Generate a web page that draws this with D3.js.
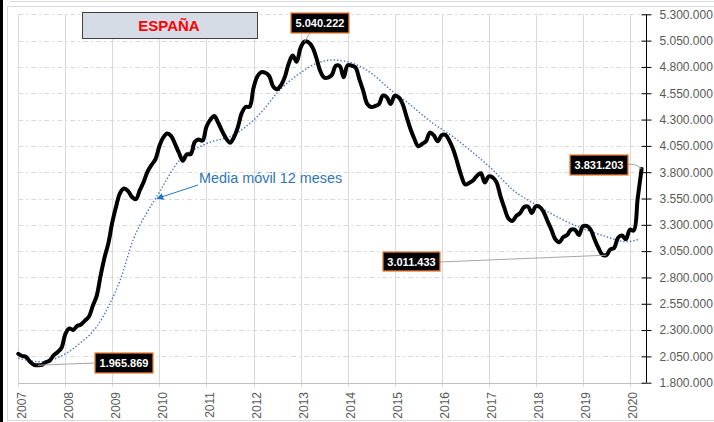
<!DOCTYPE html>
<html>
<head>
<meta charset="utf-8">
<script src="https://cdn.jsdelivr.net/npm/d3@7"></script>
<style>
  body { margin: 0; background: #fff; }
  svg { display: block; font-family: "Liberation Sans", Arial, sans-serif; }
  .grid-h { stroke: #d9d9d9; stroke-dasharray: 5 3 2 3; }
  .grid-v { stroke: #d9d9d9; }
  .yaxis path, .yaxis line { stroke: #000; }
  .yaxis text { fill: #595959; font-size: 12px; }
  .year { fill: #595959; font-size: 12px; }
  .paro { fill: none; stroke: #000; stroke-width: 4; stroke-linejoin: round; stroke-linecap: round; }
  .media { fill: none; stroke: #4472c4; stroke-width: 1.4; stroke-dasharray: 1.4 2; }
  .tag rect { fill: #000; stroke: #ed7d31; stroke-width: 1.3; }
  .tag text { fill: #fff; font-size: 11px; font-weight: bold; }
  .leader { stroke: #a6a6a6; fill: none; }
</style>
</head>
<body>
<svg width="714" height="422"></svg>
<script>
// Paro registrado, mensual, de enero 2007 a abril 2020
const startYear = 2007;
const paro = [
  2074380, 2053728, 2044470, 1999000, 1970000, 1965869, 1969000, 1995000, 2010000, 2060000, 2090000, 2129547,
  2261663, 2315331, 2300975, 2338517, 2352978, 2390403, 2426337, 2530001, 2625368, 2818026, 2989269, 3128963,
  3327801, 3481859, 3605402, 3644041, 3620139, 3564889, 3544024, 3629080, 3709447, 3808353, 3868946, 3923603,
  4048493, 4130625, 4166613, 4142425, 4066202, 3982368, 3908398, 3969661, 3972081, 4085976, 4110294, 4100073,
  4231003, 4299263, 4333669, 4269360, 4189659, 4121801, 4079742, 4130927, 4226744, 4360926, 4420462, 4422359,
  4599829, 4712098, 4750867, 4744235, 4714122, 4615269, 4587455, 4625634, 4705279, 4833521, 4907817, 4848723,
  4980778, 5040222, 5035243, 4989193, 4890928, 4763680, 4698814, 4698783, 4724355, 4811383, 4808908, 4701338,
  4814435, 4812486, 4795866, 4684301, 4572385, 4449701, 4419860, 4427930, 4447650, 4526804, 4512153, 4447711,
  4525691, 4512116, 4451939, 4333016, 4215031, 4120304, 4046276, 4067955, 4094042, 4176369, 4149298, 4093508,
  4150710, 4152986, 4094770, 4011171, 3891403, 3767054, 3683061, 3697496, 3720297, 3764982, 3789823, 3702974,
  3760231, 3750876, 3702317, 3573036, 3461128, 3362811, 3335924, 3382324, 3410182, 3467026, 3474281, 3412781,
  3476528, 3470248, 3422551, 3335868, 3252130, 3162162, 3135021, 3182068, 3202509, 3254703, 3252867, 3202297,
  3285761, 3289040, 3255084, 3163566, 3079491, 3015686, 3011433, 3065804, 3079711, 3177659, 3198184, 3163605,
  3253853, 3246047, 3548312, 3831203
];

// media movil 12 meses (mes desde ene-2007, valor)
const mediaMes = [0, 5.5, 10.6, 15.7, 20, 23.4, 26, 29.3, 32.7, 35.3, 41.2, 47.2, 55.7, 62.5, 65.9, 71.8, 76.1, 80.3, 85.4, 88.9, 95.6, 99, 105.8, 110.9, 115.2, 121.1, 126.2, 132.2, 139, 145, 150, 155.2, 158.6];
const mediaVal = [2032000, 1999000, 2047000, 2174000, 2332000, 2554000, 2776000, 3156000, 3409000, 3567000, 3916000, 4058000, 4170000, 4390000, 4549000, 4739000, 4834000, 4866000, 4834000, 4770000, 4564000, 4470000, 4264000, 4137000, 4010000, 3820000, 3631000, 3488000, 3346000, 3251000, 3187000, 3140000, 3165000];

const years = ["2007", "2008", "2009", "2010", "2011", "2012", "2013", "2014", "2015", "2016", "2017", "2018", "2019", "2020"];
const yTicks = d3.range(1800000, 5300001, 250000);

// meses marcados con etiqueta: minimo 2007, maximo 2013, minimo 2019, ultimo dato
const marcados = [5, 73, 150, 159];

const fmt = d3.formatLocale({decimal: ",", thousands: ".", grouping: [3], currency: ["", ""]}).format(",d");

const svg = d3.select("svg");
const x = d3.scaleLinear().domain([0, 160]).range([18.3, 645.5]);
const y = d3.scaleLinear().domain([1800000, 5300000]).range([382.7, 14.3]);

// marco
svg.append("rect").attr("x", 0).attr("y", 0).attr("width", 3).attr("height", 422).attr("fill", "#000");
svg.append("line").attr("x1", 10).attr("x2", 714).attr("y1", 1.5).attr("y2", 1.5).attr("stroke", "#d9d9d9");
svg.append("rect").attr("x", 7.5).attr("y", 6.5).attr("width", 710).attr("height", 414)
  .attr("fill", "none").attr("stroke", "#d9d9d9");

// rejilla
svg.append("g").selectAll("line").data(yTicks.slice(1)).join("line")
  .attr("class", "grid-h")
  .attr("x1", x(0)).attr("x2", x(160))
  .attr("y1", d => Math.round(y(d)) + 0.5).attr("y2", d => Math.round(y(d)) + 0.5);

svg.append("g").selectAll("line").data(years).join("line")
  .attr("class", "grid-v")
  .attr("x1", (d, i) => Math.round(x(i * 12)) + 0.5).attr("x2", (d, i) => Math.round(x(i * 12)) + 0.5)
  .attr("y1", y(5300000)).attr("y2", y(1800000) + 4.5);

svg.append("line").attr("stroke", "#bfbfbf")
  .attr("x1", x(0)).attr("x2", x(160))
  .attr("y1", Math.round(y(1800000)) + 0.5).attr("y2", Math.round(y(1800000)) + 0.5);

// eje Y a la derecha
const yAxis = svg.append("g").attr("class", "yaxis")
  .attr("transform", `translate(${Math.round(x(160)) + 0.5},0)`)
  .call(d3.axisRight(y).tickValues(yTicks).tickFormat(fmt).tickSizeOuter(0).tickSize(5).tickPadding(8));
yAxis.selectAll(".tick line").attr("x1", -5);
yAxis.select(".domain").attr("d", `M0,${y(5300000)}V${y(1800000)}`);

// años
svg.append("g").selectAll("text").data(years).join("text")
  .attr("class", "year")
  .attr("transform", (d, i) => `translate(${x(i * 12) + 3},392) rotate(-90)`)
  .attr("text-anchor", "end")
  .attr("dy", "0.35em")
  .text(d => d);

// series
svg.append("path").datum(mediaMes.map((m, i) => [m, mediaVal[i]]))
  .attr("class", "media")
  .attr("d", d3.line().x(d => x(d[0])).y(d => y(d[1])).curve(d3.curveMonotoneX));

svg.append("path").datum(paro)
  .attr("class", "paro")
  .attr("d", d3.line().x((d, i) => x(i)).y(d => y(d)).curve(d3.curveCatmullRom.alpha(0.5)));

// titulo
svg.append("rect").attr("x", 82.5).attr("y", 12.5).attr("width", 175).attr("height", 26)
  .attr("fill", "#d6dce5").attr("stroke", "#404040");
svg.append("text").attr("x", 169).attr("y", 31).attr("text-anchor", "middle")
  .attr("fill", "#ff0000").attr("font-weight", "bold").attr("font-size", "15px").text("ESPAÑA");

// nota media movil
svg.append("defs").append("marker").attr("id", "flecha")
  .attr("viewBox", "0 0 10 10").attr("refX", 9).attr("refY", 5)
  .attr("markerWidth", 7).attr("markerHeight", 7).attr("orient", "auto")
  .append("path").attr("d", "M0,0L10,5L0,10Z").attr("fill", "#1f77c8");
svg.append("line").attr("x1", 198).attr("y1", 185).attr("x2", 157).attr("y2", 198.5)
  .attr("stroke", "#1f77c8").attr("stroke-width", 1).attr("marker-end", "url(#flecha)");
svg.append("text").attr("x", 199).attr("y", 183).attr("fill", "#2e75b6").attr("font-size", "14.4px")
  .text("Media móvil 12 meses");

// etiquetas de valores
const cajas = [
  {bx: 95, by: 353, w: 58, h: 20, lx: 95, ly: 363},
  {bx: 291, by: 13, w: 58, h: 20, lx: 310, ly: 33},
  {bx: 383, by: 252, w: 57, h: 19, lx: 440, ly: 262},
  {bx: 570, by: 155, w: 58, h: 20, lx: 628, ly: 164}
];
marcados.forEach((m, i) => {
  const c = cajas[i];
  const px = x(m), py = y(paro[m]);
  const pts = i === 3 ? [[c.lx, c.ly], [c.lx + 8, c.ly + 1], [px, py]] : [[c.lx, c.ly], [px, py]];
  svg.append("path").attr("class", "leader").attr("d", d3.line()(pts));
  const g = svg.append("g").attr("class", "tag");
  g.append("rect").attr("x", c.bx).attr("y", c.by).attr("width", c.w).attr("height", c.h);
  g.append("text").attr("x", c.bx + c.w / 2).attr("y", c.by + c.h / 2 + 4)
    .attr("text-anchor", "middle").text(fmt(paro[m]));
});
</script>
</body>
</html>
